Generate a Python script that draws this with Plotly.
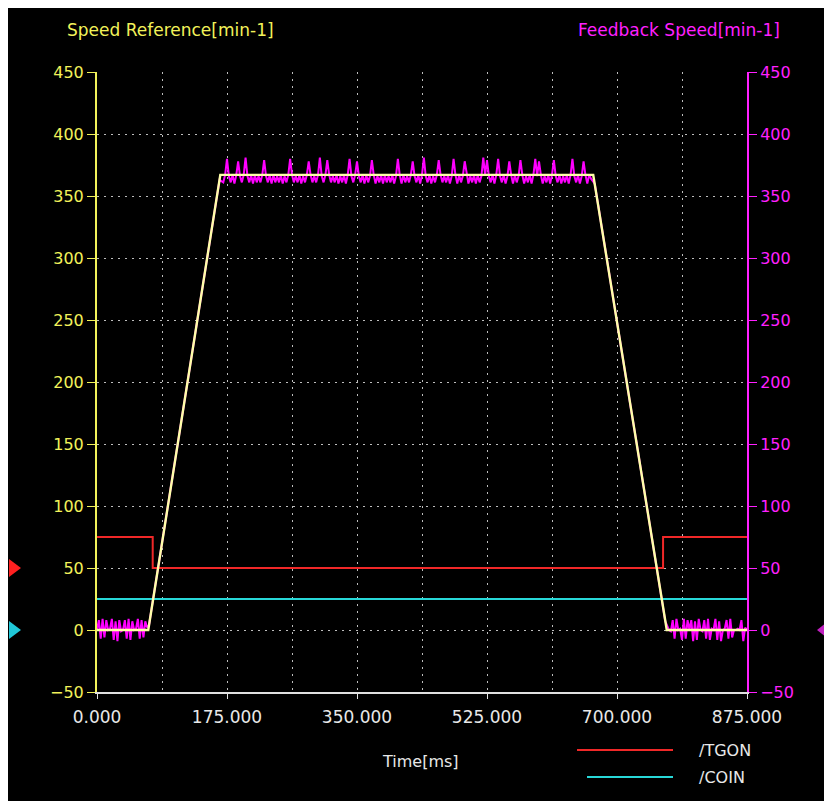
import plotly.graph_objects as go

# ---------------- data ----------------
# Speed reference (yellow): breakpoints in ms and min-1
ref_t = [0, 69, 166, 668, 767, 875]
ref_v = [0, 0, 367, 367, 0, 0]

# Feedback speed (magenta), recorded in segments: (start ms, sample step ms, values)
fb_idle_start = [0, 8, -7, 9, -6, 8, 0, 1, 9, -8,
                 7, -9, 8, -1, 0, 8, -7, 9, -8, 7,
                 0, 1, 9, -7, 8, -6, 7, 2]
fb_accel = [4, 23, 42, 61, 79, 98, 117, 136, 155, 174,
            193, 212, 231, 250, 269, 288, 306, 325, 344, 363]
fb_plateau = [361, 367, 380, 366, 361, 367, 360, 367, 378, 366,
              361, 367, 381, 366, 361, 367, 360, 367, 361, 366,
              361, 367, 379, 366, 361, 367, 360, 367, 361, 366,
              361, 367, 360, 366, 361, 367, 380, 367, 361, 366,
              361, 367, 360, 366, 361, 367, 378, 367, 361, 366,
              361, 367, 381, 366, 361, 367, 379, 367, 361, 366,
              361, 367, 360, 366, 361, 367, 360, 367, 380, 366,
              361, 367, 378, 366, 361, 367, 360, 367, 361, 366,
              379, 367, 360, 366, 361, 367, 360, 367, 361, 366,
              361, 367, 360, 366, 380, 367, 360, 367, 361, 366,
              361, 367, 378, 366, 361, 367, 360, 367, 381, 366,
              361, 367, 360, 366, 361, 367, 379, 367, 361, 366,
              361, 367, 360, 366, 380, 367, 360, 367, 361, 366,
              378, 367, 360, 366, 361, 367, 360, 367, 361, 366,
              381, 367, 379, 366, 361, 367, 360, 367, 380, 366,
              361, 367, 360, 366, 378, 367, 360, 367, 361, 366,
              379, 367, 360, 366, 361, 367, 360, 367, 380, 366,
              378, 367, 360, 366, 361, 367, 360, 367, 379, 366,
              361, 367, 360, 366, 361, 367, 360, 367, 380, 366,
              361, 367, 360, 366, 378, 367, 360, 367, 364]
fb_decel = [360, 341, 322, 304, 285, 267, 248, 230, 211, 193,
            174, 156, 137, 119, 100, 82, 63, 44, 26, 7]
fb_idle_end = [0, -1, 8, -7, 9, 0, 1, -8, 9, -7,
               8, 0, 8, -9, 7, -8, 9, 0, -1, 8,
               -7, 9, -8, 1, 0, 9, -8, 7, -9, 0,
               1, 8, -7, 9, -6, 0, 0, 1, 0, 8,
               -9, 2, 0]
fb_segments = [(0, 2.5, fb_idle_start), (70, 5, fb_accel), (170, 2.5, fb_plateau),
               (670, 5, fb_decel), (770, 2.5, fb_idle_end)]
fb_t, fb_v = [], []
for t0, dt, vals in fb_segments:
    fb_t += [t0 + i * dt for i in range(len(vals))]
    fb_v += vals

# Digital signals drawn as step traces
tgon_t = [0, 75, 762, 875]
tgon_v = [75, 50, 75, 75]
coin_t = [0, 875]
coin_v = [25, 25]

x_ticks = [0, 175, 350, 525, 700, 875]
x_tick_labels = ["0.000", "175.000", "350.000", "525.000", "700.000", "875.000"]

# ---------------- styling ----------------
YEL = "#f2f25a"
MAG = "#ff20ff"
RED = "#f02828"
CYA = "#28d8d8"
GRID = "#bdbdbd"
FONT = "DejaVu Sans"

fig = go.Figure()
# Both axes share the same scale; the reference trace sits on the overlay axis
# so that it is drawn above the feedback trace, as in the original.
fig.add_trace(go.Scatter(x=fb_t, y=fb_v, mode="lines", yaxis="y",
                         line=dict(color="#ff00ff", width=2), name="Feedback Speed",
                         showlegend=False))
fig.add_trace(go.Scatter(x=tgon_t, y=tgon_v, mode="lines", line_shape="hv",
                         line=dict(color=RED, width=2), name="/TGON", showlegend=False))
fig.add_trace(go.Scatter(x=coin_t, y=coin_v, mode="lines",
                         line=dict(color=CYA, width=2), name="/COIN", showlegend=False))
fig.add_trace(go.Scatter(x=ref_t, y=ref_v, mode="lines", yaxis="y2",
                         line=dict(color="#ffffa8", width=2.4), name="Speed Reference",
                         showlegend=False))

# page has an 8px body offset; plot area target in page pixels: x 97..747, y 72..692
OFF = 8
W, H = 824, 793
L, R, T, B = 97 - OFF, OFF + W - 747, 72 - OFF, OFF + H - 692
PX0, PX1, PY0, PY1 = 97, 747, 72, 692


def px(x):
    return (x - PX0) / (PX1 - PX0)


def py(y):
    return (PY1 - y) / (PY1 - PY0)


fig.update_layout(
    width=W, height=H,
    margin=dict(l=L, r=R, t=T, b=B),
    paper_bgcolor="black", plot_bgcolor="black",
    font=dict(family=FONT, color="#e6e6e6", size=16),
    xaxis=dict(range=[0, 875], tickvals=x_ticks, ticktext=x_tick_labels,
               showgrid=True, gridcolor=GRID, griddash="2px,5px", gridwidth=1,
               minor=dict(dtick=87.5, tick0=0, showgrid=True, gridcolor=GRID,
                          griddash="2px,5px", gridwidth=1),
               zeroline=False, showline=True, linecolor="#e0e0e0", linewidth=2,
               ticks="outside", ticklen=5, tickcolor="#e0e0e0",
               ticklabelstandoff=4,
               tickfont=dict(family=FONT, size=17, color="#e8e8e8")),
    yaxis=dict(range=[-50, 450], tick0=0, dtick=50,
               showgrid=True, gridcolor=GRID, griddash="2px,5px", gridwidth=1,
               zeroline=False, showline=True, linecolor=YEL, linewidth=2,
               ticks="outside", ticklen=8, tickcolor=YEL,
               tickfont=dict(family=FONT, size=16, color=YEL)),
    yaxis2=dict(range=[-50, 450], tick0=0, dtick=50, overlaying="y", side="right",
                showgrid=False, zeroline=False, showline=True, linecolor=MAG,
                linewidth=2, ticks="outside", ticklen=8, tickcolor=MAG,
                tickfont=dict(family=FONT, size=16, color=MAG)),
)

annotations = [
    dict(text="Speed Reference[min-1]", x=px(65), y=py(30), xref="paper", yref="paper",
         xanchor="left", yanchor="middle", showarrow=False,
         font=dict(family=FONT, size=17, color=YEL)),
    dict(text="Feedback Speed[min-1]", x=px(782), y=py(30), xref="paper", yref="paper",
         xanchor="right", yanchor="middle", showarrow=False,
         font=dict(family=FONT, size=17, color=MAG)),
    dict(text="Time[ms]", x=px(420), y=py(762), xref="paper", yref="paper",
         xanchor="center", yanchor="middle", showarrow=False,
         font=dict(family=FONT, size=16, color="#e8e8e8")),
    dict(text="/TGON", x=px(697), y=py(750), xref="paper", yref="paper",
         xanchor="left", yanchor="middle", showarrow=False,
         font=dict(family=FONT, size=16, color="#e8e8e8")),
    dict(text="/COIN", x=px(697), y=py(777), xref="paper", yref="paper",
         xanchor="left", yanchor="middle", showarrow=False,
         font=dict(family=FONT, size=16, color="#e8e8e8")),
]
fig.update_layout(annotations=annotations)

shapes = [
    # legend lines
    dict(type="line", xref="paper", yref="paper", x0=px(577), x1=px(673),
         y0=py(750), y1=py(750), line=dict(color=RED, width=2)),
    dict(type="line", xref="paper", yref="paper", x0=px(587), x1=px(673),
         y0=py(777), y1=py(777), line=dict(color=CYA, width=2)),
    # level markers
    dict(type="path", xref="paper", yref="y", xsizemode="pixel", ysizemode="pixel",
         xanchor=0, yanchor=50, path="M-88,-9 L-76,0 L-88,9 Z",
         fillcolor="#ff2020", line=dict(width=0)),
    dict(type="path", xref="paper", yref="y", xsizemode="pixel", ysizemode="pixel",
         xanchor=0, yanchor=0, path="M-88,-9 L-76,0 L-88,9 Z",
         fillcolor="#20c8d8", line=dict(width=0)),
    dict(type="path", xref="paper", yref="y", xsizemode="pixel", ysizemode="pixel",
         xanchor=1, yanchor=0, path="M80,-8 L70,0 L80,8 Z",
         fillcolor="#c020c0", line=dict(width=0)),
]
fig.update_layout(shapes=shapes)

fig.write_html("out.html")
